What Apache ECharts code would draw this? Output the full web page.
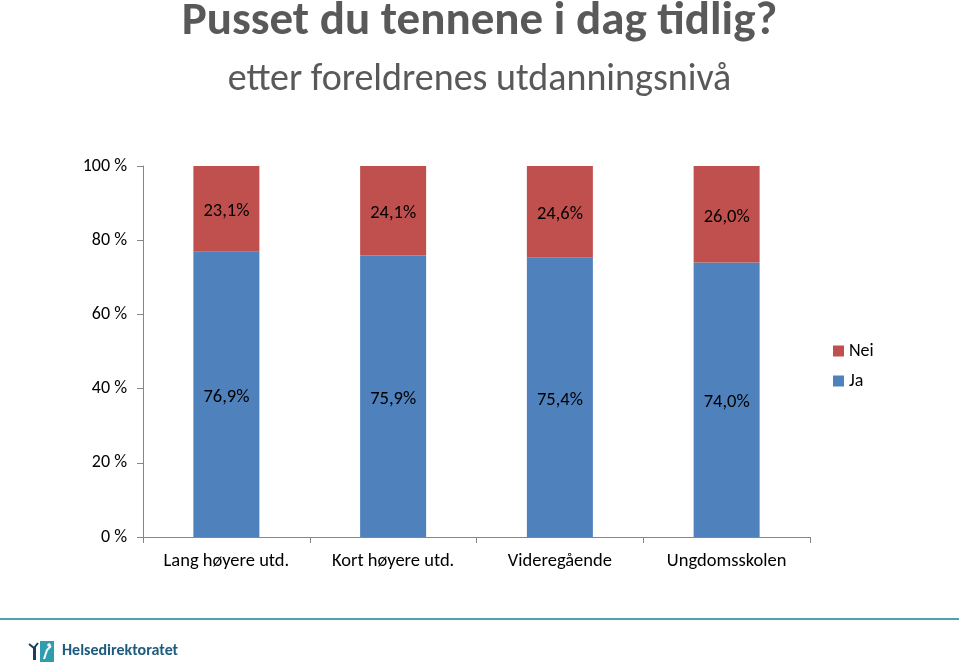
<!DOCTYPE html>
<html><head><meta charset="utf-8">
<script src="https://cdn.jsdelivr.net/npm/echarts@6/dist/echarts.min.js"></script>
<style>html,body{margin:0;padding:0;background:#fff}#c{width:959px;height:663px}</style>
</head><body><div id="c"></div>
<script>
const categories = ['Lang høyere utd.', 'Kort høyere utd.', 'Videregående', 'Ungdomsskolen'];
const jaValues = [76.9, 75.9, 75.4, 74.0];
const neiValues = [23.1, 24.1, 24.6, 26.0];
const yTicks = [0, 20, 40, 60, 80, 100];

const chart = echarts.init(document.getElementById('c'));
const fmt = p => p.value.toFixed(1).replace('.', ',') + '%';
const font = 'Carlito, Calibri, "Liberation Sans Narrow", "Open Sans", sans-serif';
chart.setOption({
  animation: false,
  title: [
    {text: 'Pusset du tennene i dag tidlig?', left: 'center', top: -6,
     textStyle: {fontSize: 47, fontWeight: 'bold', color: '#595959', fontFamily: font}},
    {text: 'etter foreldrenes utdanningsnivå', left: 'center', top: 56,
     textStyle: {fontSize: 38, fontWeight: 'normal', color: '#595959', fontFamily: font}}
  ],
  legend: {
    orient: 'vertical', left: 828, top: 337, itemWidth: 11, itemHeight: 11, itemGap: 12,
    data: ['Nei', 'Ja'], icon: 'rect',
    textStyle: {fontSize: 18, color: '#000', fontFamily: font}
  },
  grid: {left: 143, right: 149, top: 166, bottom: 126},
  xAxis: {
    type: 'category', data: categories,
    axisLine: {lineStyle: {color: '#868686'}},
    axisTick: {show: true, length: 6, lineStyle: {color: '#868686'}},
    axisLabel: {fontSize: 18.5, color: '#000', margin: 15, fontFamily: font}
  },
  yAxis: {
    type: 'value', min: 0, max: 100, interval: 20,
    axisLine: {show: true, lineStyle: {color: '#868686'}},
    axisTick: {show: true, length: 6, inside: false, lineStyle: {color: '#868686'}},
    splitLine: {show: false},
    axisLabel: {fontSize: 18, color: '#000', margin: 16, fontFamily: font,
      formatter: v => yTicks.includes(v) ? v + ' %' : ''}
  },
  series: [
    {name: 'Ja', type: 'bar', stack: 's', data: jaValues, barWidth: 66,
     itemStyle: {color: '#4F81BD'},
     label: {show: true, position: 'inside', offset: [0, 3], formatter: fmt, fontSize: 18.5, color: '#000', fontFamily: font}},
    {name: 'Nei', type: 'bar', stack: 's', data: neiValues, barWidth: 66,
     itemStyle: {color: '#C0504D'},
     label: {show: true, position: 'inside', offset: [0, 3], formatter: fmt, fontSize: 18.5, color: '#000', fontFamily: font}}
  ],
  graphic: [
    {type: 'rect', shape: {x: 0, y: 618, width: 959, height: 2}, style: {fill: '#4BA3B0'}},
    {type: 'rect', shape: {x: 40, y: 641, width: 14, height: 21}, style: {fill: '#2E9DAD'}},
    {type: 'polyline', shape: {points: [[44, 659], [47, 650], [51, 646]]}, style: {stroke: '#fff', lineWidth: 2, fill: null}},
    {type: 'circle', shape: {cx: 49, cy: 645, r: 1.8}, style: {fill: '#fff'}},
    {type: 'polyline', shape: {points: [[29, 644], [34, 648], [38, 643]]}, style: {stroke: '#1D3F5C', lineWidth: 2, fill: null}},
    {type: 'rect', shape: {x: 33, y: 647, width: 3, height: 13}, style: {fill: '#1D3F5C'}},
    {type: 'text', left: 62, top: 643, style: {text: 'Helsedirektoratet', fill: '#1D5C7C', font: 'bold 16px ' + font}}
  ]
});
</script></body></html>
